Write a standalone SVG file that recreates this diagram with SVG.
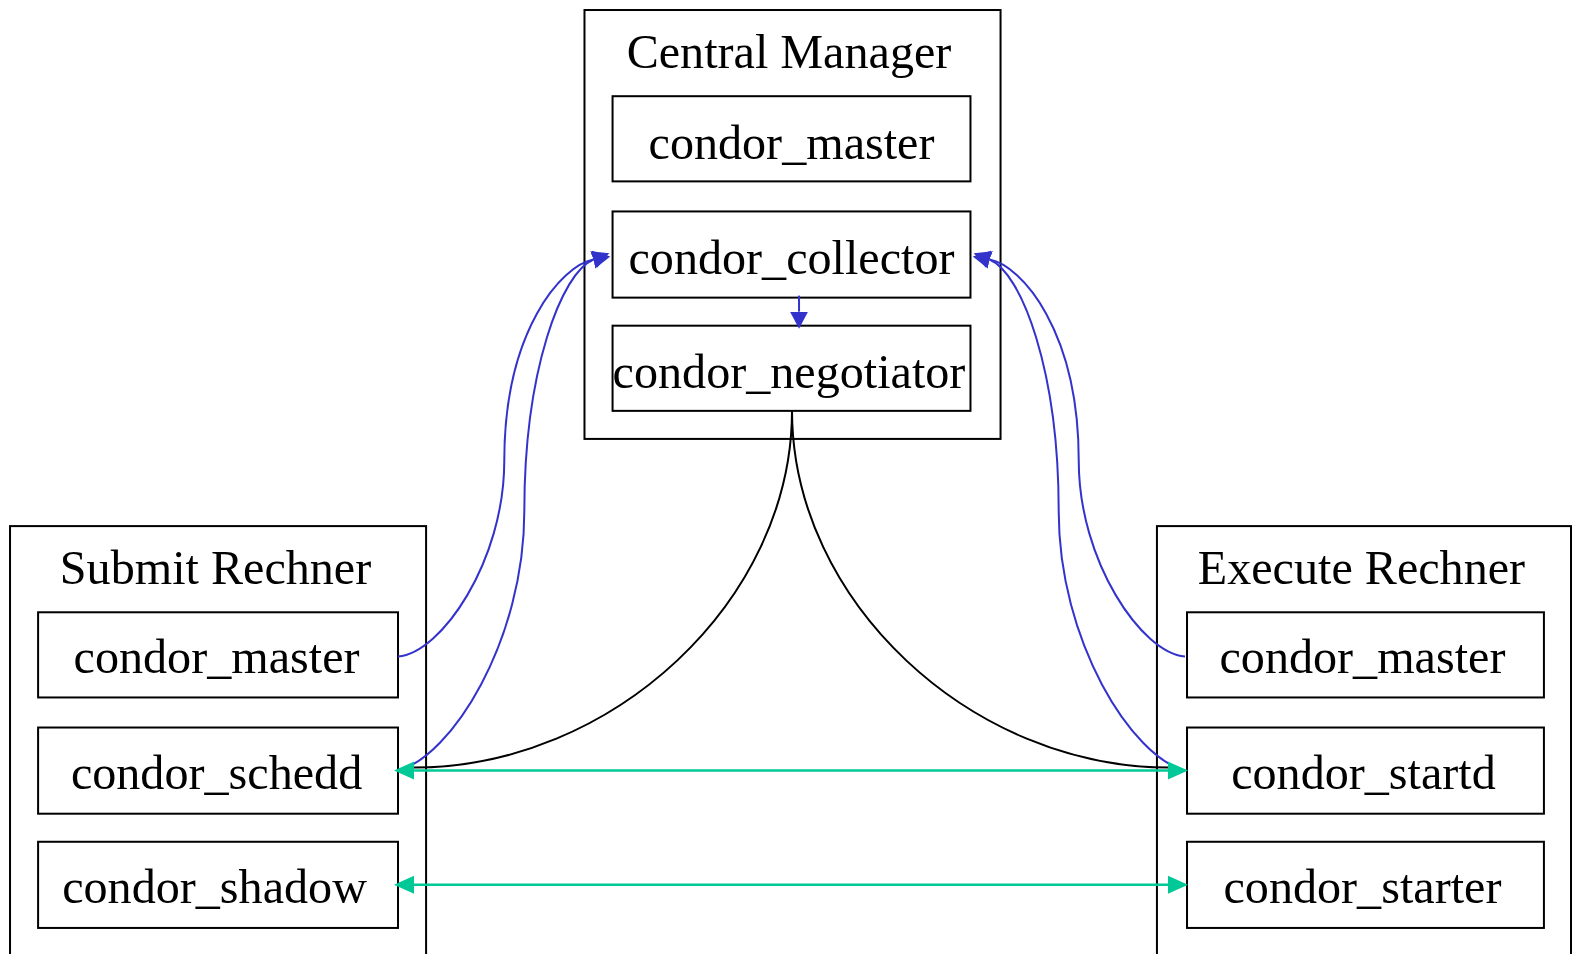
<svg xmlns="http://www.w3.org/2000/svg" width="1572" height="954" viewBox="0 0 1572 954">
<style>
.cl{fill:none;stroke:#000;stroke-width:2}
.nd{fill:#fff;stroke:#000;stroke-width:2}
text{font-family:"Liberation Serif","Times New Roman",serif;font-size:48px;fill:#000;text-anchor:middle}
.b{fill:none;stroke:#3333cc;stroke-width:2}
.k{fill:none;stroke:#000;stroke-width:2}
.g{fill:none;stroke:#00c896;stroke-width:2.5}
</style>
<defs>
<marker id="ab" markerUnits="userSpaceOnUse" markerWidth="20" markerHeight="20" refX="0" refY="9" orient="auto" viewBox="0 0 20 18"><path d="M0,0 L17,9 L0,18 Z" fill="#3333cc"/></marker>
<marker id="ag" markerUnits="userSpaceOnUse" markerWidth="22" markerHeight="20" refX="0" refY="9" orient="auto" viewBox="0 0 22 18"><path d="M0,0 L20,9 L0,18 Z" fill="#00c896"/></marker>
<marker id="agr" markerUnits="userSpaceOnUse" markerWidth="22" markerHeight="20" refX="0" refY="9" orient="auto-start-reverse" viewBox="0 0 22 18"><path d="M0,0 L20,9 L0,18 Z" fill="#00c896"/></marker>
</defs>
<g transform="scale(1.00255 1.0021)">
<g id="cluster_central">
<rect class="cl" x="583" y="10" width="415" height="428"/>
<text x="787" y="68">Central Manager</text>
</g>
<g id="cluster_submit">
<rect class="cl" x="10" y="525" width="415" height="440"/>
<text x="215" y="583">Submit Rechner</text>
</g>
<g id="cluster_execute">
<rect class="cl" x="1154" y="525" width="413" height="440"/>
<text x="1358" y="583">Execute Rechner</text>
</g>
<g id="cm_master"><rect class="nd" x="611" y="96" width="357" height="85"/><text x="789.5" y="158.5">condor_master</text></g>
<g id="cm_collector"><rect class="nd" x="611" y="211" width="357" height="86"/><text x="789.5" y="273">condor_collector</text></g>
<g id="cm_negotiator"><rect class="nd" x="611" y="325" width="357" height="85"/><text x="787" y="387">condor_negotiator</text></g>
<g id="sub_master"><rect class="nd" x="38" y="611" width="359" height="85"/><text x="216" y="672">condor_master</text></g>
<g id="sub_schedd"><rect class="nd" x="38" y="726" width="359" height="86"/><text x="216" y="787">condor_schedd</text></g>
<g id="sub_shadow"><rect class="nd" x="38" y="840" width="359" height="86"/><text x="214" y="901">condor_shadow</text></g>
<g id="ex_master"><rect class="nd" x="1184" y="611" width="356" height="85"/><text x="1359" y="672">condor_master</text></g>
<g id="ex_startd"><rect class="nd" x="1184" y="726" width="356" height="86"/><text x="1360" y="787">condor_startd</text></g>
<g id="ex_starter"><rect class="nd" x="1184" y="840" width="356" height="86"/><text x="1359" y="901">condor_starter</text></g>
<g id="connectors">
<path class="b" d="M797,295 L797,311" marker-end="url(#ab)"/>
<path class="k" d="M790,410 C790,600 610,766 413,766"/>
<path class="k" d="M790,410 C790,600 969,766 1166,766"/>
<path class="b" d="M397,655 C440,652 503,560 503,460 C503,330 560,265 592,259" marker-end="url(#ab)"/>
<path class="b" d="M397,769 C450,755 523,640 523,510 C523,370 560,272 592,259" marker-end="url(#ab)"/>
<path class="b" d="M1182,655 C1139,652 1076,560 1076,460 C1076,330 1019,265 987,259" marker-end="url(#ab)"/>
<path class="b" d="M1182,769 C1129,755 1056,640 1056,510 C1056,370 1019,272 987,259" marker-end="url(#ab)"/>
<path class="g" d="M413,769 L1165,769" marker-start="url(#agr)" marker-end="url(#ag)"/>
<path class="g" d="M413,883 L1165,883" marker-start="url(#agr)" marker-end="url(#ag)"/>
</g>
</g>
</svg>
